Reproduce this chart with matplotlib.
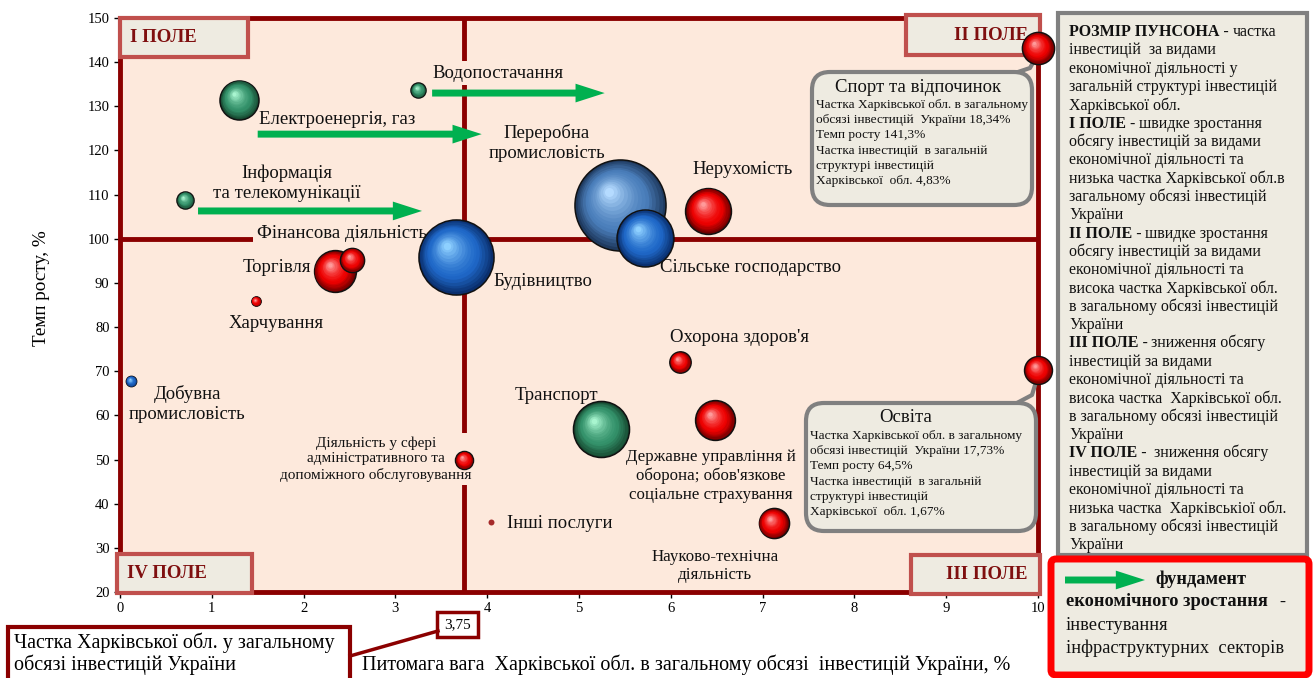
import numpy as np
import matplotlib
matplotlib.use("Agg")
import matplotlib.pyplot as plt
import matplotlib.colors as mcolors
from matplotlib import transforms
from matplotlib.patches import FancyBboxPatch, Rectangle

plt.rcParams['font.family'] = ['Liberation Serif', 'DejaVu Serif']

# ---------------- data ----------------
sectors = ["Переробна промисловість", "Будівництво", "Сільське господарство", "Транспорт",
           "Нерухомість", "Торгівля",
           "Державне управління й оборона; обов'язкове соціальне страхування",
           "Електроенергія, газ", "Спорт та відпочинок", "Науково-технічна діяльність",
           "Освіта", "Фінансова діяльність", "Охорона здоров'я",
           "Діяльність у сфері адміністративного та допоміжного обслуговування",
           "Інформація та телекомунікації", "Водопостачання", "Добувна промисловість",
           "Харчування", "Інші послуги"]
# share of Kharkiv region in total investments of Ukraine, % (x)
share_ukraine = [5.45, 3.66, 5.72, 5.24, 6.41, 2.34, 6.48, 1.30, 10.0, 7.12,
                 10.0, 2.53, 6.10, 3.75, 0.71, 3.25, 0.12, 1.48, 4.04]
# growth rate, % (y)
growth_rate = [107.6, 95.9, 100.2, 56.9, 106.3, 92.7, 58.9, 131.5, 143.2, 35.6,
               70.3, 95.2, 72.1, 49.9, 108.8, 133.7, 67.8, 85.9, 35.8]
# relative bubble value (share of the sector in Kharkiv investments, estimated)
bubble_share = [25.6, 17.4, 10.0, 9.7, 6.5, 5.4, 4.9, 4.7, 3.2, 2.8,
                2.4, 1.8, 1.4, 1.0, 0.9, 0.7, 0.37, 0.3, 0.11]
sector_group = ["steel", "blue", "blue", "green", "red", "red", "red", "green", "red", "red",
                "red", "red", "red", "red", "green", "green", "blue", "red", "dot"]

x_threshold = 3.75
y_threshold = 100
x_ticks = list(range(0, 11))
y_ticks = list(range(20, 151, 10))

# ---------------- figure ----------------
W, H = 1314, 678
fig = plt.figure(figsize=(W / 100, H / 100), dpi=100)
fig.patch.set_facecolor("white")

ax = fig.add_axes([120 / W, 1 - 592 / H, (1038 - 120) / W, (592 - 18) / H])
ov = fig.add_axes([0, 0, 1, 1], zorder=5)
ov.set_xlim(0, W)
ov.set_ylim(H, 0)
ov.axis("off")
P = ov.transData  # reference-pixel coordinates for layout elements

ax.set_xlim(0, 10)
ax.set_ylim(20, 150)
ax.set_facecolor("#FDE9DC")
for sp in ax.spines.values():
    sp.set_color("#8B0000")
    sp.set_linewidth(3.5)
ax.set_xticks(x_ticks)
ax.set_yticks(y_ticks)
ax.tick_params(labelsize=10.5, colors="black", length=4, width=1)

DARKRED = "#8B0000"
ax.axvline(x_threshold, color=DARKRED, lw=3.5, zorder=2)
ax.axhline(y_threshold, color=DARKRED, lw=3.5, zorder=2)

palettes = {
    "red": ("#6E0000", "#EE0000", "#FF9A9A"),
    "green": ("#174A31", "#33916A", "#A8F5CF"),
    "blue": ("#0A2F6E", "#1F68C8", "#8ED0FF"),
    "steel": ("#1F3A5F", "#4A7EBB", "#B5DBFF"),
}


def lerp(c1, c2, t):
    a = np.array(mcolors.to_rgb(c1))
    b = np.array(mcolors.to_rgb(c2))
    return tuple(a + (b - a) * t)


def sphere(x, y, r_pt, grp):
    if grp == "dot":
        ax.scatter([x], [y], s=(2 * r_pt) ** 2, color="#A52A2A", linewidths=0,
                   zorder=5, clip_on=False)
        return
    dark, mid, light = palettes[grp]
    ax.scatter([x], [y], s=(2 * r_pt) ** 2, color=dark, edgecolors="#111111",
               linewidths=1.1 if r_pt > 4 else 0.6, zorder=5, clip_on=False)
    n = 16
    for i in range(1, n):
        t = i / (n - 1)
        f = 1 - 0.9 * t
        tr = transforms.offset_copy(ax.transData, fig=fig, x=-0.25 * r_pt * t,
                                    y=0.30 * r_pt * t, units="points")
        if t < 0.35:
            col = lerp(dark, mid, t / 0.35)
        else:
            col = lerp(mid, light, ((t - 0.35) / 0.65) ** 1.5)
        ax.scatter([x], [y], s=(2 * r_pt * f) ** 2, color=col, linewidths=0,
                   zorder=5, transform=tr, clip_on=False)


order = np.argsort(bubble_share)[::-1]
for i in order:
    r_px = 9 * np.sqrt(bubble_share[i])
    sphere(share_ukraine[i], growth_rate[i], r_px * 0.72, sector_group[i])

# ---------------- green arrows ----------------
GREEN = "#00B050"
arrow_style = "simple,head_length=2.1,head_width=1.35,tail_width=0.5"
for (x0, x1, y) in [(3.40, 5.28, 133.0), (1.50, 3.94, 123.7), (0.85, 3.29, 106.3)]:
    ax.annotate("", xy=(x1, y), xytext=(x0, y),
                arrowprops=dict(arrowstyle=arrow_style, fc=GREEN, ec="none",
                                mutation_scale=10, shrinkA=0, shrinkB=0),
                annotation_clip=False, zorder=4)

# ---------------- sector labels (layout in pixels) ----------------
PINK = "#FDE9DC"
FS = 13.5
labels = [
    ("Водопостачання", 432, 73, "left", FS, True, 1.2),
    ("Електроенергія, газ", 259, 119, "left", FS, False, 1.2),
    ("Переробна\nпромисловість", 547, 143, "center", FS, False, 1.22),
    ("Інформація\nта телекомунікації", 287, 183.5, "center", FS, False, 1.22),
    ("Фінансова діяльність", 257, 234, "left", FS, True, 1.2),
    ("Торгівля", 311, 268, "right", FS, False, 1.2),
    ("Харчування", 276, 323, "center", FS, False, 1.2),
    ("Будівництво", 493, 282, "left", FS, False, 1.2),
    ("Сільське господарство", 660, 268, "left", FS, False, 1.2),
    ("Нерухомість", 743, 169, "center", FS, False, 1.2),
    ("Охорона здоров'я", 739, 337, "center", FS, False, 1.2),
    ("Транспорт", 556, 395, "center", FS, False, 1.2),
    ("Державне управління й\nоборона; обов'язкове\nсоціальне страхування", 711, 476,
     "center", 12.2, False, 1.19),
    ("Інші послуги", 507, 523, "left", FS, False, 1.2),
    ("Науково-технічна\nдіяльність", 715, 566, "center", 12.2, False, 1.22),
    ("Добувна\nпромисловість", 187, 404, "center", FS, False, 1.27),
    ("Діяльність у сфері\nадміністративного та\nдопоміжного обслуговування", 376, 459,
     "center", 11, True, 1.24),
]
for txt, px, py, ha, fs, bg, lsp in labels:
    kw = {}
    if bg:
        kw["bbox"] = dict(boxstyle="square,pad=0.2", fc=PINK, ec="none")
    ax.text(px, py, txt, transform=P, ha=ha, va="center", multialignment="center",
            fontsize=fs, color="#111111", linespacing=lsp, zorder=3, clip_on=False, **kw)

# ---------------- quadrant boxes ----------------
quads = [("І ПОЛЕ", 120, 18, 248, 57, "left"), ("ІІ ПОЛЕ", 906, 15, 1040, 55, "right"),
         ("IV ПОЛЕ", 117, 554, 252, 593, "left"), ("ІІІ ПОЛЕ", 911, 555, 1040, 594, "right")]
for t, x0, y0, x1, y1, ha in quads:
    ax.add_patch(Rectangle((x0, y0), x1 - x0, y1 - y0, transform=P, fc="#EEEBE1",
                           ec="#C0504D", lw=3, zorder=4, clip_on=False))
    tx = x0 + 10 if ha == "left" else x1 - 12
    ax.text(tx, (y0 + y1) / 2, t, transform=P, ha=ha, va="center", fontsize=13.5,
            fontweight="bold", color="#7F0F0F", zorder=4.1, clip_on=False)

# ---------------- callouts ----------------
BOXFC = "#EEEBE1"
GRAY = "#808080"


def callout(x0, y0, w, h, title, tcx, lines, conn):
    ax.plot([c[0] for c in conn], [c[1] for c in conn], transform=P, color=GRAY,
            lw=3, zorder=4, clip_on=False, solid_capstyle="round")
    ax.add_patch(FancyBboxPatch((x0, y0), w, h, boxstyle="round,pad=0,rounding_size=18",
                                transform=P, fc=BOXFC, ec=GRAY, lw=3, zorder=4,
                                clip_on=False))
    ax.text(tcx, y0 + 15, title, transform=P, ha="center", va="center", fontsize=13.5,
            color="#111111", zorder=4.2, clip_on=False)
    for k, ln in enumerate(lines):
        ax.text(x0 + 4, y0 + 33 + 15.2 * k, ln, transform=P, ha="left", va="center",
                fontsize=9.6, color="#111111", zorder=4.2, clip_on=False)


callout(812, 72, 220, 133, "Спорт та відпочинок", 918,
        ["Частка Харківської обл. в загальному", "обсязі інвестицій  України 18,34%",
         "Темп росту 141,3%", "Частка інвестицій  в загальній", "структурі інвестицій",
         "Харківської  обл. 4,83%"],
        [(1015, 73), (1030, 68), (1040, 50)])
callout(806, 403, 230, 128, "Освіта", 906,
        ["Частка Харківської обл. в загальному", "обсязі інвестицій  України 17,73%",
         "Темп росту 64,5%", "Частка інвестицій  в загальній", "структурі інвестицій",
         "Харківської  обл. 1,67%"],
        [(1015, 404), (1032, 395), (1039, 372)])

# ---------------- axis labels ----------------
ov.text(42, 288, "Темп росту, %", rotation=90, ha="center", va="center", fontsize=13.8)
ov.text(362, 665, "Питомага вага  Харківської обл. в загальному обсязі  інвестицій України, %",
        ha="left", va="center", fontsize=14.5)

# threshold annotation
ov.plot([438, 350], [631, 656], color=DARKRED, lw=2.5)
ov.add_patch(Rectangle((437, 612), 41, 25, fc="white", ec=DARKRED, lw=2.5))
ov.text(457.5, 624.5, f"{x_threshold:.2f}".replace(".", ","), ha="center", va="center",
        fontsize=11)
ov.add_patch(Rectangle((8, 627), 342, 60, fc="white", ec=DARKRED, lw=3, clip_on=False))
ov.text(14, 643, "Частка Харківської обл. у загальному", ha="left", va="center", fontsize=14.5)
ov.text(14, 665, "обсязі інвестицій України", ha="left", va="center", fontsize=14.5)

# ---------------- right legend ----------------
ov.add_patch(Rectangle((1058, 13), 249, 542, fc=BOXFC, ec=GRAY, lw=3))
legend_lines = [
    ("РОЗМІР ПУНСОНА -", "частка"), ("", "інвестицій  за видами"),
    ("", "економічної діяльності у"), ("", "загальній структурі інвестицій"),
    ("", "Харківської обл."),
    ("І ПОЛЕ -", "швидке зростання"), ("", "обсягу інвестицій за видами"),
    ("", "економічної діяльності та"), ("", "низька частка Харківської обл.в"),
    ("", "загальному обсязі інвестицій"), ("", "України"),
    ("ІІ ПОЛЕ -", "швидке зростання"), ("", "обсягу інвестицій за видами"),
    ("", "економічної діяльності та"), ("", "висока частка Харківської обл."),
    ("", "в загальному обсязі інвестицій"), ("", "України"),
    ("ІІІ ПОЛЕ -", "зниження обсягу"), ("", "інвестицій за видами"),
    ("", "економічної діяльності та"), ("", "висока частка  Харківської обл."),
    ("", "в загальному обсязі інвестицій"), ("", "України"),
    ("IV ПОЛЕ -", " зниження обсягу"), ("", "інвестицій за видами"),
    ("", "економічної діяльності та"), ("", "низька частка  Харківськіої обл."),
    ("", "в загальному обсязі інвестицій"), ("", "України"),
]


def mixed(px, py, bold, normal, fs, gap=2.5):
    if bold:
        t = ov.text(px, py, bold, ha="left", va="center", fontsize=fs, fontweight="bold",
                    color="#111111")
        if normal:
            ov.annotate(normal, xy=(1, 0), xycoords=t, xytext=(gap, 0),
                        textcoords="offset points", ha="left", va="bottom", fontsize=fs,
                        color="#111111", annotation_clip=False)
    else:
        ov.text(px, py, normal, ha="left", va="center", fontsize=fs, color="#111111")


for k, (b, n) in enumerate(legend_lines):
    mixed(1069, 32 + 18.32 * k, b, n, 11.5)

# ---------------- red box ----------------
ov.add_patch(FancyBboxPatch((1051, 559), 258, 116, boxstyle="round,pad=0,rounding_size=5",
                            fc=BOXFC, ec="#FF0000", lw=5))
ov.annotate("", xy=(1145, 580), xytext=(1065, 580),
            arrowprops=dict(arrowstyle=arrow_style, fc=GREEN, ec="none",
                            mutation_scale=10, shrinkA=0, shrinkB=0))
mixed(1155, 579, "фундамент", "", 13.2)
mixed(1066, 602, "економічного зростання", "-", 13.2, gap=8)
mixed(1066, 625, "", "інвестування", 13.2)
mixed(1066, 648, "", "інфраструктурних  секторів", 13.2)

fig.savefig("out.png", dpi=100)
